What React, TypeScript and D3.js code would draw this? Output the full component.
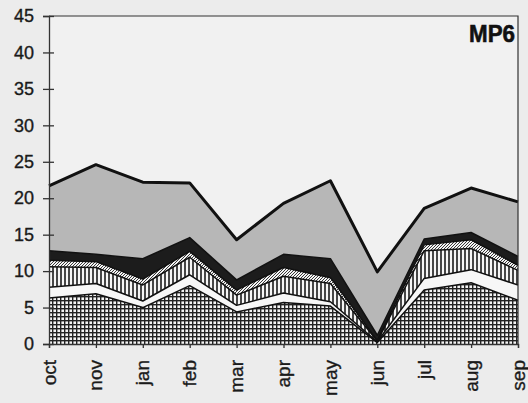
import { useEffect, useRef } from 'react';
import * as d3 from 'd3';

// months on the x axis (no dec in the source)
const months = ['oct', 'nov', 'jan', 'feb', 'mar', 'apr', 'may', 'jun', 'jul', 'aug', 'sep'];

// layer thicknesses, bottom to top
const gridLayer = [6.3, 6.9, 5.0, 8.0, 4.4, 5.7, 5.2, 0.2, 7.4, 8.4, 6.0];
const whiteLayer = [1.5, 1.4, 0.9, 1.5, 0.9, 1.3, 0.6, 0.1, 1.6, 1.8, 2.1];
const stripeLayer = [2.8, 2.2, 2.2, 2.4, 1.4, 2.3, 2.5, 0.1, 3.8, 2.9, 2.0];
const hatchLayer = [0.9, 0.8, 0.8, 0.8, 0.7, 1.2, 0.8, 0.1, 0.8, 1.2, 0.7];
const blackLayer = [1.3, 1.0, 2.8, 1.9, 1.4, 1.8, 2.6, 0.7, 0.8, 1.0, 1.2];
const grayLayer = [8.9, 12.3, 10.5, 7.5, 5.5, 7.0, 10.7, 8.7, 4.2, 6.1, 7.5];

const yTicks = [0, 5, 10, 15, 20, 25, 30, 35, 40, 45];
const panelLabel = 'MP6';

const layerKeys = ['grid', 'white', 'stripe', 'hatch', 'black', 'gray'];

const App = () => {
    const svgRef = useRef<SVGSVGElement>(null);

    useEffect(() => {
        if (!svgRef.current) return;
        d3.select(svgRef.current).selectAll('*').remove();

        const W = 528, H = 403;
        const left = 49, right = 518, top = 16, bottom = 344;

        const svg = d3.select(svgRef.current)
            .attr('width', W)
            .attr('height', H);

        // patterns
        const defs = svg.append('defs');

        const pGrid = defs.append('pattern')
            .attr('id', 'pGrid').attr('patternUnits', 'userSpaceOnUse')
            .attr('width', 4).attr('height', 4);
        pGrid.append('rect').attr('width', 4).attr('height', 4).attr('fill', '#222');
        pGrid.append('rect').attr('x', 1.4).attr('y', 1.4).attr('width', 2.6).attr('height', 2.6).attr('fill', '#f4f4f4');

        const pStripe = defs.append('pattern')
            .attr('id', 'pStripe').attr('patternUnits', 'userSpaceOnUse')
            .attr('width', 4).attr('height', 4);
        pStripe.append('rect').attr('width', 4).attr('height', 4).attr('fill', '#f6f6f6');
        pStripe.append('path').attr('d', 'M1,0V4')
            .attr('stroke', '#1a1a1a').attr('stroke-width', 1.6);

        const pHatch = defs.append('pattern')
            .attr('id', 'pHatch').attr('patternUnits', 'userSpaceOnUse')
            .attr('width', 3).attr('height', 3);
        pHatch.append('rect').attr('width', 3).attr('height', 3).attr('fill', '#f4f4f4');
        pHatch.append('path').attr('d', 'M-1,4L4,-1M-1,1L1,-1M2,4L4,2')
            .attr('stroke', '#222').attr('stroke-width', 0.9);

        const fills: Record<string, string> = {
            grid: 'url(#pGrid)',
            white: '#f7f7f7',
            stripe: 'url(#pStripe)',
            hatch: 'url(#pHatch)',
            black: '#1c1c1c',
            gray: '#b7b7b7',
        };

        // paper background
        svg.append('rect').attr('width', W).attr('height', H).attr('fill', '#ececec');
        svg.append('rect')
            .attr('x', left).attr('y', top)
            .attr('width', right - left).attr('height', bottom - top)
            .attr('fill', '#f1f1f1');

        const x = d3.scalePoint<string>().domain(months).range([left, right]);
        const y = d3.scaleLinear().domain([0, 45]).range([bottom, top]);

        const rows = months.map((m, i) => ({
            month: m,
            grid: gridLayer[i],
            white: whiteLayer[i],
            stripe: stripeLayer[i],
            hatch: hatchLayer[i],
            black: blackLayer[i],
            gray: grayLayer[i],
        }));

        const stacked = d3.stack<any>().keys(layerKeys)(rows);

        const area = d3.area<any>()
            .x(d => x(d.data.month) as number)
            .y0(d => y(d[0]))
            .y1(d => y(d[1]));

        const topLine = d3.line<any>()
            .x(d => x(d.data.month) as number)
            .y(d => y(d[1]));

        stacked.forEach(s => {
            svg.append('path')
                .datum(s)
                .attr('d', area)
                .attr('fill', fills[s.key]);
        });

        stacked.forEach(s => {
            svg.append('path')
                .datum(s)
                .attr('d', topLine)
                .attr('fill', 'none')
                .attr('stroke', '#111')
                .attr('stroke-width', s.key === 'gray' ? 3 : 1.5)
                .attr('stroke-linejoin', 'round');
        });

        // frame (top and right)
        svg.append('path')
            .attr('d', `M${left},${top}H${right}V${bottom}`)
            .attr('fill', 'none')
            .attr('stroke', '#333')
            .attr('stroke-width', 1.2);

        // y axis
        const yAxis = svg.append('g')
            .attr('transform', `translate(${left},0)`)
            .call(d3.axisLeft(y).tickValues(yTicks).tickSize(6).tickPadding(9));
        yAxis.selectAll('.tick').append('line').attr('x2', 5).attr('stroke', '#333');
        yAxis.selectAll('line').attr('stroke', '#333').attr('stroke-width', 1.3);
        yAxis.select('.domain').attr('stroke', '#333').attr('stroke-width', 1.3);
        yAxis.selectAll('text')
            .attr('font-family', 'Liberation Sans, Arial, sans-serif')
            .attr('font-size', 18)
            .attr('fill', '#1a1a1a')
            .attr('stroke', '#1a1a1a')
            .attr('stroke-width', 0.35);

        // x axis
        const xAxis = svg.append('g')
            .attr('transform', `translate(0,${bottom})`)
            .call(d3.axisBottom(x).tickSize(4).tickPadding(0));
        xAxis.selectAll('line').attr('stroke', '#333').attr('stroke-width', 1.3);
        xAxis.select('.domain').attr('stroke', '#333').attr('stroke-width', 1.3);
        xAxis.selectAll('text')
            .attr('font-family', 'Liberation Sans, Arial, sans-serif')
            .attr('font-size', 19)
            .attr('fill', '#1a1a1a')
            .attr('stroke', '#1a1a1a')
            .attr('stroke-width', 0.35)
            .attr('text-anchor', 'end')
            .attr('dy', null)
            .attr('y', 0)
            .attr('transform', 'translate(6,16) rotate(-90)');

        // panel label
        svg.append('text')
            .attr('x', right - 3)
            .attr('y', top + 26)
            .attr('text-anchor', 'end')
            .attr('font-family', 'Liberation Sans, Arial, sans-serif')
            .attr('font-weight', 'bold')
            .attr('font-size', 24)
            .attr('textLength', 46)
            .attr('lengthAdjust', 'spacingAndGlyphs')
            .attr('fill', '#111')
            .attr('stroke', '#111')
            .attr('stroke-width', 0.6)
            .text(panelLabel);
    }, []);

    return (
        <svg ref={svgRef} style={{ position: 'absolute', left: 0, top: 0, display: 'block' }}></svg>
    );
};

export default App;
